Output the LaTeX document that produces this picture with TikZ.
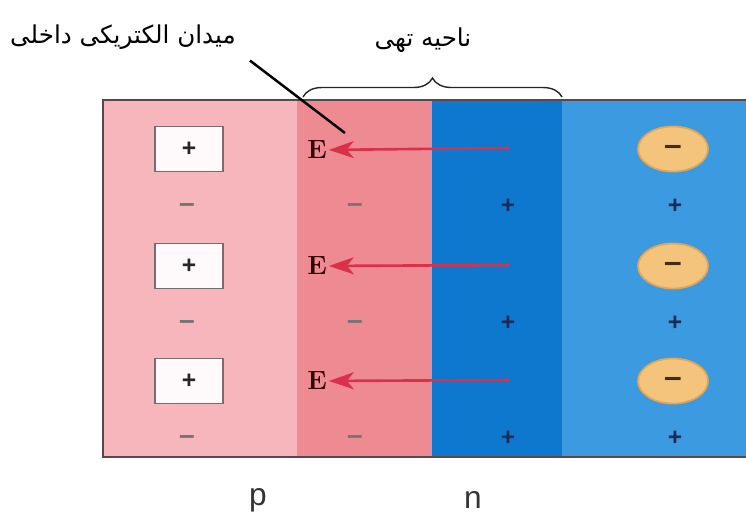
\documentclass[tikz,border=0pt]{standalone}
\usepackage{fontspec}
\setsansfont{Liberation Sans}
\newfontfamily\arabicfont[Script=Arabic]{DejaVu Sans}
\TeXXeTstate=1
\usepackage{xcolor}
\definecolor{PLight}{RGB}{246, 182, 188}
\definecolor{PDark}{RGB}{238, 138, 146}
\definecolor{NDark}{RGB}{14, 120, 206}
\definecolor{NLight}{RGB}{60, 155, 224}
\definecolor{EdgeGray}{RGB}{85, 72, 78}
\definecolor{FieldRed}{RGB}{218, 48, 74}
\definecolor{IonOrange}{RGB}{244, 196, 124}
\definecolor{IonEdge}{RGB}{228, 166, 84}
\definecolor{ENavy}{RGB}{26, 44, 88}
\usetikzlibrary{arrows.meta, positioning, decorations.pathreplacing, shapes.geometric}

\begin{document}
\begin{tikzpicture}[
        x=0.02cm, y=-0.02cm,
        posbox/.style={rectangle, draw=EdgeGray!80, line width=1pt, fill=white!92!PLight, minimum width=1.36cm, minimum height=0.9cm, font=\sffamily\bfseries\fontsize{14}{16}\selectfont, text=black!85},
        negion/.style={ellipse, draw=IonEdge, line width=1pt, fill=IonOrange, minimum width=1.4cm, minimum height=0.9cm, text height=0.72em, text depth=0pt, font=\sffamily\bfseries\fontsize{18}{20}\selectfont, text=black!65!brown},
        fieldE/.style={font=\fontsize{15}{17}\selectfont\bfseries, text=black!80!red, inner sep=1pt},
        sign/.style={text height=0.72em, text depth=0pt, font=\sffamily\bfseries\fontsize{16}{18}\selectfont, text=black!55},
        donor/.style={font=\sffamily\bfseries\fontsize{14}{16}\selectfont, text=ENavy},
        field/.style={-{Stealth[length=5mm, width=3.4mm, inset=1.4mm]}, line width=1.5pt, FieldRed},
        farsi/.style={font=\arabicfont\fontsize{14}{16}\selectfont, text=black},
        leader/.style={line width=1.4pt, black},
        brace/.style={decorate, decoration={brace, amplitude=0.38cm}, thick, black!85},
        side/.style={font=\sffamily\fontsize{18}{20}\selectfont, text=black!80}
    ]
        \useasboundingbox (0,0) rectangle (746,529);

        % Regions
        \fill[PLight] (103,100) rectangle (297,457);
        \fill[PDark] (297,100) rectangle (432,457);
        \fill[NDark] (432,100) rectangle (562,457);
        \fill[NLight] (562,100) rectangle (746,457);
        \draw[EdgeGray, line width=1.2pt] (746,100) -- (103,100) -- (103,457) -- (746,457);

        % Nodes
        \node[posbox] (box1) at (189,149) {+};
        \node[posbox] (box2) at (189,266) {+};
        \node[posbox] (box3) at (189,381) {+};
        \node[fieldE] (e1) at (317,150) {E};
        \node[fieldE] (e2) at (317,266) {E};
        \node[fieldE] (e3) at (317,381) {E};
        \node[negion] (ion1) at (673,149) {--};
        \node[negion] (ion2) at (673,266) {--};
        \node[negion] (ion3) at (673,381) {--};

        \node[sign] (pa1) at (187,206) {--};
        \node[sign] (pb1) at (355,206) {--};
        \node[donor] (na1) at (508,206) {+};
        \node[donor] (nb1) at (675,206) {+};
        \node[sign] (pa2) at (187,323) {--};
        \node[sign] (pb2) at (355,323) {--};
        \node[donor] (na2) at (508,323) {+};
        \node[donor] (nb2) at (675,323) {+};
        \node[sign] (pa3) at (187,438) {--};
        \node[sign] (pb3) at (355,438) {--};
        \node[donor] (na3) at (508,438) {+};
        \node[donor] (nb3) at (675,438) {+};

        \node[farsi] (fieldlbl) at (123,37) {\beginR میدان الکتریکی داخلی\endR};
        \node[farsi] (zonelbl) at (423,40) {\beginR ناحیه تهی\endR};
        \node[side] (plbl) at (258,500) {p};
        \node[side] (nlbl) at (473,500) {n};

        \coordinate (t1) at (510,148);
        \coordinate (t2) at (510,265);
        \coordinate (t3) at (510,380);
        \coordinate (ftip) at (345,133);
        \coordinate (bl) at (303,97);
        \coordinate (br) at (562,97);

        % Connections
        \draw[field] (t1) -- (e1);
        \draw[field] (t2) -- (e2);
        \draw[field] (t3) -- (e3);
        \draw[leader] ([shift={(8,5)}]fieldlbl.south east) -- (ftip);
        \draw[brace] (bl) -- (br);

    \end{tikzpicture}
\end{document}
